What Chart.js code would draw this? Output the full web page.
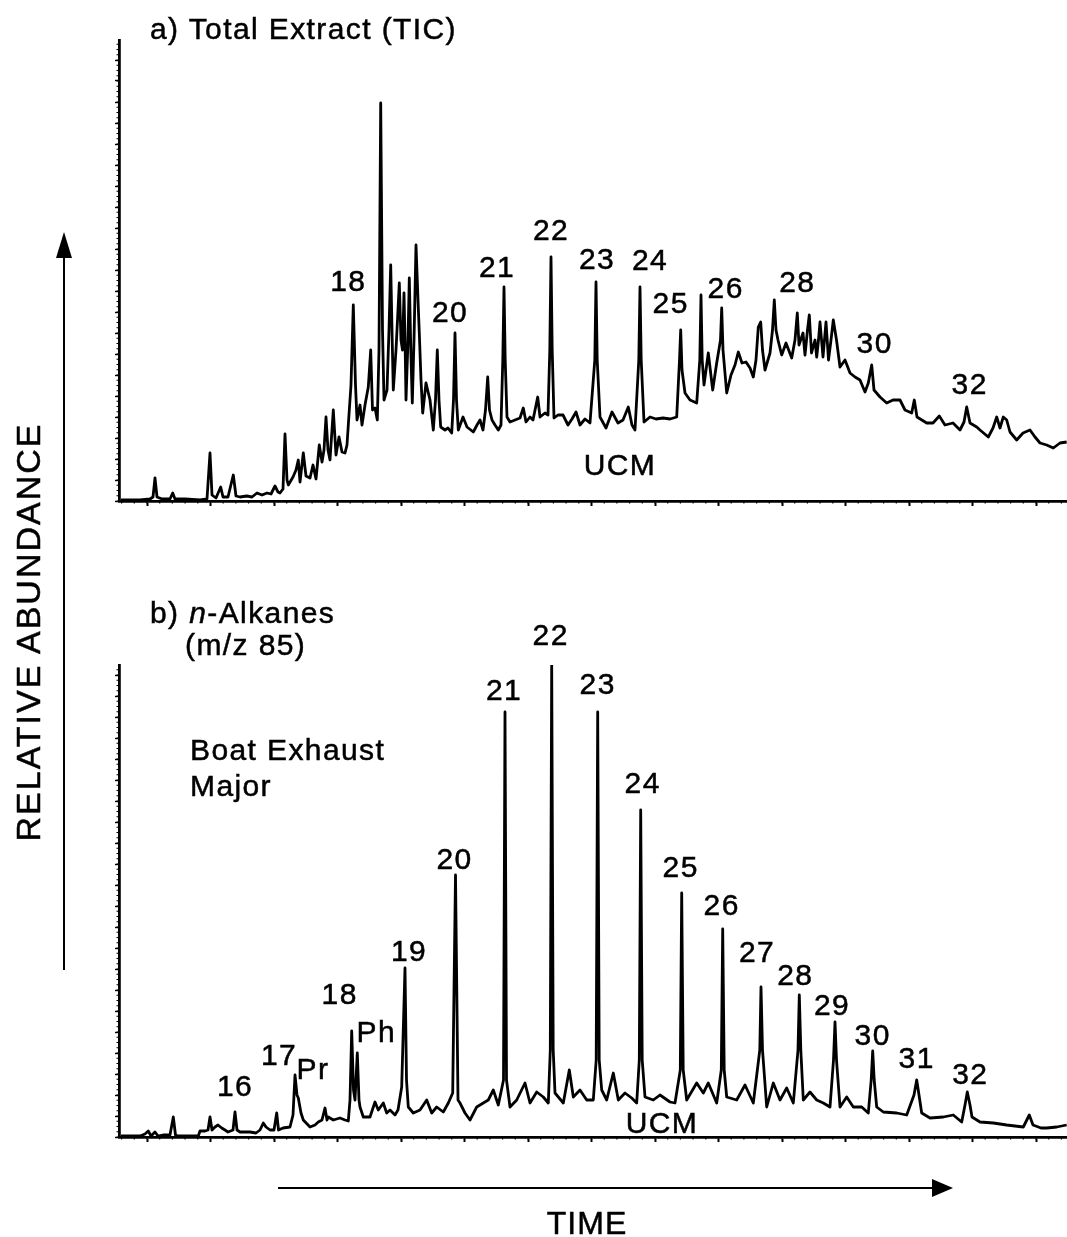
<!DOCTYPE html>
<html>
<head>
<meta charset="utf-8">
<script src="https://cdn.jsdelivr.net/npm/chart.js@4.4.1/dist/chart.umd.min.js"></script>
<style>
  html, body { margin: 0; padding: 0; background: #fff; }
  #page { position: relative; width: 1067px; height: 1237px; overflow: hidden; background: #fff; }
  canvas { position: absolute; left: 0; }
  #overlay { position: absolute; left: 0; top: 0; pointer-events: none; }
  #overlay text { font-family: "Liberation Sans", Arial, Helvetica, sans-serif; fill: #000; stroke: #000; stroke-width: 0.5; }
</style>
</head>
<body>
<div id="page">
  <canvas id="tic" width="1067" height="520" style="top:0"></canvas>
  <canvas id="alk" width="1067" height="560" style="top:600px"></canvas>
  <svg id="overlay" width="1067" height="1237" viewBox="0 0 1067 1237">
    <text x="150" y="38.5" font-size="30" letter-spacing="1.4">a) Total Extract (TIC)</text>
    <text x="150" y="623" font-size="30" letter-spacing="1.4">b) <tspan font-style="italic">n</tspan>-Alkanes</text>
    <text x="185" y="655" font-size="30" letter-spacing="1.4">(m/z 85)</text>
    <text x="190" y="760" font-size="30" letter-spacing="1.4">Boat Exhaust</text>
    <text x="190" y="796" font-size="30" letter-spacing="1.4">Major</text>
    <text transform="translate(40,632) rotate(-90)" text-anchor="middle" font-size="34" letter-spacing="2">RELATIVE ABUNDANCE</text>
    <text x="587" y="1234" text-anchor="middle" font-size="32" letter-spacing="1">TIME</text>
    <line x1="64" y1="970" x2="64" y2="252" stroke="#000" stroke-width="2"/>
    <polygon points="64,232 56,258 72,258" fill="#000"/>
    <line x1="278" y1="1188" x2="936" y2="1188" stroke="#000" stroke-width="2"/>
    <polygon points="953,1188 932,1179 932,1197" fill="#000"/>
  </svg>
</div>
<script>
// ---- Panel a: total ion current (scan number, abundance) ----
const ticScan = [
  121, 140, 150, 153, 155, 157, 162, 170, 172.7, 175, 185, 200, 207, 210, 212, 216, 220.7, 223, 228, 233.3,
  236, 240, 246.7, 252, 257, 262, 267, 271, 275, 278, 280, 283, 285, 287, 288.3, 293, 296, 298.3, 300, 303.3,
  306, 310, 313, 316, 319.3, 322, 324, 326, 328, 330, 333.3, 336, 339, 342, 345, 347, 349.3, 351, 353.3, 355.5,
  357, 360, 362, 365, 368.3, 370.7, 372.5, 375, 377.3, 379, 380.7, 382.5, 384, 387, 389, 390.7, 392.2, 393.3, 396, 397.5,
  399.3, 401, 402.5, 404, 405.2, 406, 408, 409.3, 410.8, 412.3, 414, 416, 418, 419.3, 421, 422.7, 426, 430, 433.3, 435.5,
  437.3, 439, 440.7, 445, 448, 451.7, 453.5, 455, 456.5, 458.3, 463, 467, 473.3, 477, 480, 483, 485.5, 487.7, 489.5, 492,
  495, 498.3, 501, 502.8, 504, 505.2, 507, 510, 515, 520, 523.3, 526, 530, 533, 537.7, 540, 545, 548, 549.8, 551,
  552.2, 554, 558, 563, 568, 572, 576, 580, 585, 590, 594.8, 596, 597.2, 600, 606, 612, 618, 623, 628.3, 632,
  635, 638.8, 640, 641.2, 644, 650, 656, 663, 670, 676.7, 679.5, 680.7, 682, 685, 690, 696.7, 699.8, 701, 702.2, 704,
  708.3, 712.7, 716.7, 720.5, 721.7, 723, 726.7, 731, 735, 738.3, 742, 746, 750, 753.3, 756, 758.3, 760.7, 762.5, 765, 770,
  772.5, 774.3, 776, 778, 781.7, 786, 791.7, 795, 797.3, 799, 803, 805, 807.5, 809.3, 811.5, 815, 816.7, 818.5, 820, 823,
  826, 828.5, 831, 833.3, 836.5, 840, 845, 850, 855, 860, 865, 868.3, 871.7, 874, 880, 886.7, 893, 900, 905, 911.7,
  914.3, 917, 926.7, 933, 939.3, 945, 953, 960, 964, 966.7, 970, 976.7, 980, 988.3, 993, 996.7, 1000, 1003.3, 1006.7, 1010,
  1016.7, 1023, 1030, 1035, 1040, 1046.7, 1053.3, 1060, 1066.7
];
const ticAbund = [
  1, 1, 2, 4, 23, 4, 2, 2, 8, 2, 2, 1, 2, 48, 6, 3, 14, 4, 4, 26,
  5, 4, 5, 4, 8, 6, 8, 7, 15, 9, 8, 12, 67, 21, 16, 24, 31, 41, 19, 48,
  25, 23, 36, 22, 56, 39, 51, 84, 51, 41, 91, 46, 64, 49, 48, 56, 91, 116, 196, 116,
  81, 96, 76, 96, 114, 151, 91, 93, 81, 151, 398, 171, 101, 111, 171, 236, 161, 111, 151, 181,
  218, 161, 151, 208, 151, 101, 161, 223, 151, 98, 161, 256, 201, 168, 121, 88, 118, 101, 71, 101,
  151, 101, 74, 71, 73, 68, 101, 168, 101, 71, 84, 74, 69, 76, 81, 71, 91, 124, 91, 81,
  76, 71, 76, 141, 214, 141, 84, 79, 81, 83, 93, 79, 84, 81, 104, 84, 88, 86, 151, 244,
  151, 83, 86, 86, 76, 82, 89, 76, 82, 78, 141, 219, 141, 84, 73, 89, 78, 81, 94, 76,
  71, 141, 214, 141, 79, 84, 82, 83, 82, 84, 141, 171, 131, 108, 101, 98, 141, 206, 141, 116,
  148, 111, 138, 161, 193, 151, 108, 126, 136, 149, 138, 139, 133, 124, 141, 174, 179, 151, 131, 148,
  171, 201, 171, 161, 146, 158, 143, 161, 188, 156, 168, 146, 171, 186, 148, 161, 144, 161, 179, 144,
  179, 141, 161, 181, 161, 134, 141, 128, 124, 121, 109, 118, 136, 111, 104, 98, 101, 101, 91, 88,
  101, 84, 78, 78, 85, 76, 78, 71, 79, 94, 78, 74, 71, 64, 73, 84, 73, 84, 81, 69,
  61, 68, 71, 64, 58, 56, 53, 58, 59
];
const ticPeakNames = ['18', '20', '21', '22', '23', '24', '25', '26', '28', '30', '32'];
const ticPeakScan  = [353.3, 455, 504, 551, 596, 640, 680.7, 721.7, 774.3, 871.7, 966.7];

// ---- Panel b: n-alkanes, m/z 85 ion trace ----
const alkScan = [
  121, 140, 145, 148.3, 151, 155, 158, 163, 170, 173.3, 175.5, 178, 185, 195, 198.3, 200, 205, 208, 210, 212,
  215, 218, 221.7, 225, 228, 233, 235, 237, 240, 250, 256, 260, 263.3, 266, 270, 274, 276.7, 278.5, 283, 290,
  293, 295, 297, 298.3, 301, 303.3, 310, 315, 318.3, 322, 325, 327, 328.3, 333.3, 340, 345, 348.3, 350, 351.7, 353.5,
  355, 357.3, 359, 360, 363.3, 370, 375, 378.3, 383.3, 386.7, 390, 395, 398, 401.7, 405, 406.5, 408.3, 413.3, 420, 426.7,
  431.7, 436.7, 443.3, 448.3, 452.7, 455.5, 458, 460, 465, 470, 476.7, 483.3, 488.3, 493.3, 498.3, 503.5, 505, 506.5, 510, 516.7,
  525, 530, 536.7, 543.3, 548.3, 550.3, 551.7, 553.2, 555, 563.3, 569.3, 573.3, 580, 586.7, 593.3, 596.2, 597.7, 599.2, 601.7, 606.7,
  613.3, 618.3, 625, 631.7, 636.7, 639.3, 640.7, 642.2, 645, 653.3, 660, 670, 675, 680.3, 681.7, 683.2, 686.7, 696.7, 703.3, 708.3,
  716.7, 721.3, 722.7, 724.2, 726.7, 736.7, 745, 753.3, 759.8, 761, 762.5, 766.7, 773.3, 780, 786.7, 793.3, 798, 799.3, 800.8, 803.3,
  810, 816.7, 823.3, 830, 833.5, 835, 836.5, 840, 846.7, 853.3, 861.7, 868.3, 871.2, 872.7, 874.2, 876.7, 883.3, 896.7, 906.7, 914,
  916.7, 919, 921.7, 930, 943.3, 953.3, 961.7, 965, 967.3, 970, 972, 980, 993.3, 1006.7, 1023.3, 1029.3, 1033, 1041, 1046.7, 1056.7,
  1066.7
];
const alkAbund = [
  1, 1, 3, 6, 1, 5, 1, 2, 2, 20, 2, 1, 1, 1, 1, 6, 6, 7, 20, 7,
  10, 12, 9, 7, 5, 7, 25, 7, 5, 5, 4, 7, 14, 10, 7, 7, 24, 7, 9, 10,
  22, 62, 42, 39, 24, 17, 10, 12, 15, 17, 29, 17, 20, 17, 19, 17, 16, 37, 106, 47,
  37, 84, 37, 30, 20, 20, 35, 27, 34, 24, 27, 22, 27, 50, 169, 57, 30, 24, 27, 37,
  24, 30, 25, 34, 44, 262, 37, 34, 24, 17, 30, 34, 37, 47, 32, 57, 425, 57, 30, 37,
  54, 34, 45, 40, 34, 87, 473, 87, 44, 34, 67, 40, 47, 37, 37, 77, 425, 77, 47, 37,
  64, 37, 44, 39, 34, 77, 327, 77, 40, 37, 42, 35, 34, 67, 244, 67, 37, 54, 44, 54,
  34, 67, 208, 67, 40, 37, 52, 34, 87, 150, 87, 30, 54, 37, 49, 34, 87, 142, 87, 37,
  45, 37, 34, 30, 77, 115, 77, 30, 40, 30, 30, 24, 57, 86, 57, 30, 25, 24, 22, 42,
  57, 42, 24, 19, 20, 22, 15, 32, 45, 32, 20, 15, 14, 12, 10, 22, 12, 9, 9, 10,
  12
];
const alkPeakNames = ['16', '17', 'Pr', '18', 'Ph', '19', '20', '21', '22', '23', '24', '25', '26', '27', '28', '29', '30', '31', '32'];
const alkPeakScan  = [235, 295, 295, 351.7, 357.3, 405, 455.5, 505, 551.7, 597.7, 640.7, 681.7, 722.7, 761, 799.3, 835, 872.7, 916.7, 967.3];

// Axis tick positions (scan number / abundance)
const scanMajorTicks = [147, 210.5, 274, 337.5, 401, 464.5, 528, 591.5, 655, 718.5, 782, 845.5, 909, 972.5, 1036];
const scanMinorStep = 12.7;
const abundMajorStep = 21;
const abundMinorStep = 5.25;

// Label placement around each apex: [dx, dy] of the text centre in pixels
const ticLabelOffset = {
  '18': [-5, -25], '20': [-5, -22], '21': [-7, -21], '22': [0, -28], '23': [1, -24], '24': [10, -28],
  '25': [-10, -28], '26': [4, -21], '28': [23, -19], '30': [3, -23], '32': [3, -24]
};
const alkLabelOffset = {
  '16': [0, -27], '17': [-16, -21], 'Pr': [18, -7], '18': [-12, -38], 'Ph': [19, -22], '19': [4, -18],
  '20': [-1, -17], '21': [-1, -23], '22': [-1, -30], '23': [0, -29], '24': [2, -28], '25': [-1, -27],
  '26': [-1, -25], '27': [-4, -36], '28': [-4, -21], '29': [-3, -18], '30': [0, -17], '31': [0, -23], '32': [3, -19]
};

const LABEL_FONT = '30px "Liberation Sans", Arial, Helvetica, sans-serif';

function minorTicks() {
  return {
    id: 'minorTicks',
    afterDraw(chart) {
      const { ctx, chartArea: a, scales: { x, y } } = chart;
      ctx.save();
      ctx.strokeStyle = '#000';
      ctx.lineWidth = 1.2;
      ctx.beginPath();
      for (let v = scanMajorTicks[0] - 2 * scanMinorStep; v <= x.max; v += scanMinorStep) {
        if (v < x.min) continue;
        const px = x.getPixelForValue(v);
        ctx.moveTo(px, a.bottom);
        ctx.lineTo(px, a.bottom + 2.5);
      }
      for (let v = 0; v <= y.max; v += abundMinorStep) {
        const py = y.getPixelForValue(v);
        ctx.moveTo(a.left - 2.5, py);
        ctx.lineTo(a.left, py);
      }
      ctx.stroke();
      ctx.restore();
    }
  };
}

function drawLabel(ctx, text, px, py) {
  ctx.fillText(text, px, py);
  ctx.strokeText(text, px, py);
}

function peakLabels(names, scans, xs, ys, offsets, ucm) {
  return {
    id: 'peakLabels',
    afterDatasetsDraw(chart) {
      const { ctx, scales: { x, y } } = chart;
      ctx.save();
      ctx.fillStyle = '#000';
      ctx.strokeStyle = '#000';
      ctx.lineWidth = 0.5;
      ctx.font = LABEL_FONT;
      ctx.letterSpacing = '1.4px';
      ctx.textAlign = 'center';
      ctx.textBaseline = 'alphabetic';
      names.forEach((name, i) => {
        const idx = xs.indexOf(scans[i]);
        const px = x.getPixelForValue(xs[idx]);
        const py = y.getPixelForValue(ys[idx]);
        const [dx, dy] = offsets[name];
        drawLabel(ctx, name, px + dx, py + dy + 11);
      });
      drawLabel(ctx, 'UCM', x.getPixelForValue(ucm[0]), y.getPixelForValue(ucm[1]) + 11);
      ctx.restore();
    }
  };
}

function makeChart(canvasId, xs, ys, yMax, padding, names, peakScans, offsets, ucm) {
  const points = xs.map((s, i) => ({ x: s, y: ys[i] }));
  return new Chart(document.getElementById(canvasId), {
    type: 'line',
    data: {
      datasets: [{
        data: points,
        borderColor: '#000',
        borderWidth: 2.8,
        pointRadius: 0,
        tension: 0,
        fill: false,
        borderJoinStyle: 'round'
      }]
    },
    options: {
      responsive: false,
      animation: false,
      events: [],
      layout: { padding },
      plugins: { legend: { display: false }, tooltip: { enabled: false } },
      scales: {
        x: {
          type: 'linear',
          min: 119,
          max: 1067,
          afterBuildTicks: (s) => { s.ticks = scanMajorTicks.map(v => ({ value: v })); },
          ticks: { display: false },
          grid: { drawOnChartArea: false, drawTicks: true, tickLength: 5, tickColor: '#000', tickWidth: 2 },
          border: { display: true, color: '#000', width: 2.8 }
        },
        y: {
          type: 'linear',
          min: 0,
          max: yMax,
          ticks: { display: false, stepSize: abundMajorStep, includeBounds: false },
          grid: { drawOnChartArea: false, drawTicks: true, tickLength: 4, tickColor: '#000', tickWidth: 1.4 },
          border: { display: true, color: '#000', width: 2.8 }
        }
      }
    },
    plugins: [minorTicks(), peakLabels(names, peakScans, xs, ys, offsets, ucm)]
  });
}

makeChart('tic', ticScan, ticAbund, 461, { left: 115, right: 0, top: 40, bottom: 14 },
  ticPeakNames, ticPeakScan, ticLabelOffset, [620, 37]);
makeChart('alk', alkScan, alkAbund, 472, { left: 115, right: 0, top: 65, bottom: 18 },
  alkPeakNames, alkPeakScan, alkLabelOffset, [662, 15]);
</script>
</body>
</html>
